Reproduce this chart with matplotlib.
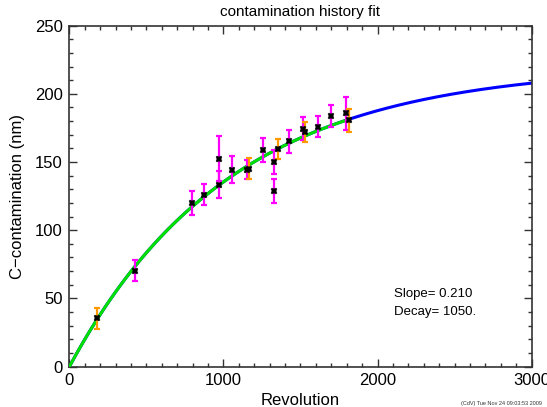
import numpy as np
import matplotlib
matplotlib.use('Agg')
import matplotlib.pyplot as plt
from matplotlib.ticker import MultipleLocator

plt.rcParams['font.family'] = ['Liberation Sans', 'DejaVu Sans']

# fit parameters
SLOPE = 0.210
DECAY = 1050.

# measurements: revolution, contamination (nm), 1-sigma error
rev_a = [425, 796, 874, 968, 974, 1056, 1154, 1255, 1325, 1331, 1427, 1515, 1612, 1699, 1797]
cont_a = [70.3, 119.6, 126.0, 133.3, 152.4, 144.3, 144.3, 159.0, 150.0, 128.6, 165.2, 174.4, 176.0, 183.7, 185.6]
err_a = [7.5, 8.8, 7.6, 10.0, 16.6, 9.9, 7.1, 8.8, 8.8, 9.0, 8.3, 8.6, 7.7, 8.2, 12.2]

rev_b = [180, 1164, 1353, 1532, 1814]
cont_b = [35.4, 145.0, 159.6, 172.0, 180.5]
err_b = [7.6, 7.6, 7.3, 7.2, 8.6]


def contamination(x, slope=SLOPE, decay=DECAY):
    return slope * decay * (1. - np.exp(-x / decay))


fig = plt.figure(figsize=(5.47, 4.07), dpi=100)
ax = fig.add_axes([0.127, 0.0995, 0.8447, 0.8374])

# model curve: full range in blue, data range in green
xfull = np.linspace(0, 3000, 400)
ax.plot(xfull, contamination(xfull), color='#0000ff', lw=2.2, zorder=2)
xdata = np.linspace(0, max(rev_a + rev_b), 300)
ax.plot(xdata, contamination(xdata), color='#00e000', lw=2.2, zorder=3)

kw = dict(fmt='none', elinewidth=1.6, capsize=2.2, capthick=1.6, zorder=4)
ax.errorbar(rev_a, cont_a, yerr=err_a, ecolor='#ff00ff', **kw)
ax.errorbar(rev_b, cont_b, yerr=err_b, ecolor='#ff9900', **kw)
ax.plot(rev_a + rev_b, cont_a + cont_b, ls='none', marker='X', ms=5,
        color='black', mew=0.3, zorder=5)

ax.set_xlim(0, 3000)
ax.set_ylim(0, 250)
ax.xaxis.set_major_locator(MultipleLocator(1000))
ax.xaxis.set_minor_locator(MultipleLocator(100))
ax.yaxis.set_major_locator(MultipleLocator(50))
ax.yaxis.set_minor_locator(MultipleLocator(10))
ax.tick_params(which='both', direction='in', top=True, right=True,
               labelsize=12, color='#333333', width=1)
ax.tick_params(which='major', length=6, pad=5)
ax.tick_params(which='minor', length=3)
for sp in ax.spines.values():
    sp.set_color('#333333')
    sp.set_linewidth(1.2)

ax.set_xlabel('Revolution', fontsize=12, labelpad=3)
ax.set_ylabel('C\u2212contamination (nm)', fontsize=12, labelpad=7)
ax.set_title('contamination history fit', fontsize=11, pad=7)

ax.text(0.703, 0.205, 'Slope= %.3f' % SLOPE, transform=ax.transAxes, fontsize=9.5)
ax.text(0.703, 0.152, 'Decay= %.0f.' % DECAY, transform=ax.transAxes, fontsize=9.5)

fig.text(0.99, 0.002, '(CdV) Tue Nov 24 09:03:53 2009', ha='right', va='bottom',
         fontsize=4, color='#333333')

fig.savefig('out.png', dpi=100)
